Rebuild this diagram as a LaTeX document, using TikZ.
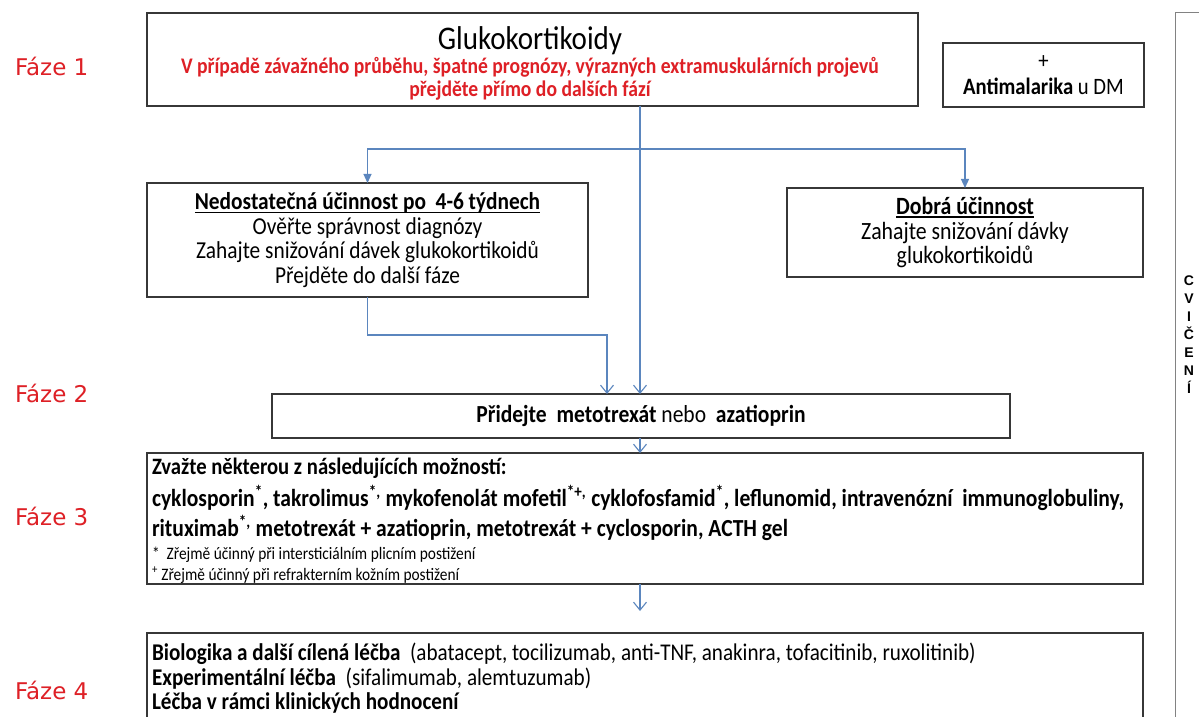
\documentclass[tikz,border=0pt]{standalone}
\usepackage{fontspec}
\setmainfont{Carlito}[FakeStretch=0.88]
\newfontfamily\fazefont{DejaVu Sans}
\newfontfamily\cvfont{Liberation Sans}
\usetikzlibrary{arrows.meta,calc}
\definecolor{fred}{RGB}{222,32,38}
\definecolor{conn}{RGB}{91,134,190}
\definecolor{bord}{RGB}{55,55,55}
\definecolor{panel}{RGB}{130,130,130}
\newcommand\fsz[2]{\fontsize{#1bp}{#2bp}\selectfont}
\newcommand\myul[1]{\setbox0\hbox{#1}\rlap{\rule[-3bp]{\wd0}{1.1bp}}\box0}
\begin{document}
\begin{tikzpicture}[x=1bp,y=-1bp,
  box/.style={draw=bord, line width=1.3bp, inner sep=0pt, outer sep=0pt},
  txt/.style={inner sep=0pt, outer sep=0pt},
  connline/.style={draw=conn, line width=1.1bp},
  tri/.style={connline, -{Triangle[width=8bp,length=9bp]}},
  vee/.style={connline, -{Straight Barb[width=13bp,length=8bp]}},
  faze/.style={txt, anchor=west, text=fred, font={\fazefont\fsz{23}{28}}},
  lline/.style={txt, anchor=base west, font={\fsz{24}{24}}}
]
\useasboundingbox (0,0) rectangle (1199,717);
\clip (0,0) rectangle (1199,717);
\fill[white] (0,0) rectangle (1199,717);

% phase labels
\node[faze] (f1) at (15,66) {Fáze 1};
\node[faze] (f2) at (15,393) {Fáze 2};
\node[faze] (f3) at (15,516) {Fáze 3};
\node[faze] (f4) at (15,690) {Fáze 4};

% phase 1
\node[box, minimum width=771bp, minimum height=93bp] (top) at (532.5,59.5) {};
\node[txt, anchor=base, font={\fsz{33}{36}}] (glk) at (530,50) {Glukokortikoidy};
\node[txt, anchor=base, text=fred, font={\bfseries\fsz{22.3}{24}}] (sev1) at (530,74) {V případě závažného průběhu, špatné prognózy, výrazných extramuskulárních projevů};
\node[txt, anchor=base, text=fred, font={\bfseries\fsz{22.3}{24}}] (sev2) at (530,97) {přejděte přímo do dalších fází};

\node[box, minimum width=201bp, minimum height=64bp, align=center, font={\fsz{23.5}{26}}] (am) at (1043.5,75) {+\\\textbf{Antimalarika} u DM};

\node[box, minimum width=441bp, minimum height=114bp, align=center, font={\fsz{24.3}{24.5}}] (nd) at (367.5,240)
  {\myul{\textbf{Nedostatečná účinnost po\ \ 4-6 týdnech}}\\Ověřte správnost diagnózy\\Zahajte snižování dávek glukokortikoidů\\Přejděte do další fáze};

\node[box, minimum width=356bp, minimum height=89bp, align=center, font={\fsz{24.8}{24.5}}] (db) at (965,232.5)
  {\myul{\textbf{Dobrá účinnost}}\\Zahajte snižování dávky\\glukokortikoidů};

% phase 2
\node[box, minimum width=738bp, minimum height=44bp, font={\fsz{24.5}{26}}] (p2) at (641,416)
  {\textbf{Přidejte\ \ metotrexát} nebo\ \ \textbf{azatioprin}};

% phase 3
\node[box, minimum width=996bp, minimum height=131bp] (p3) at (645,518.5) {};
\node[lline, font={\bfseries\fsz{23.5}{24}}] (p3a) at (152,474) {Zvažte některou z následujících možností:};
\node[lline, font={\bfseries\fsz{24.5}{24}}] (p3b) at (152,506) {cyklosporin\textsuperscript{*}, takrolimus\textsuperscript{*,} mykofenolát mofetil\textsuperscript{*+,} cyklofosfamid\textsuperscript{*}, leflunomid, intravenózní\ \ immunoglobuliny,};
\node[lline, font={\bfseries\fsz{24.5}{24}}] (p3c) at (152,536) {rituximab\textsuperscript{*,} metotrexát + azatioprin, metotrexát + cyclosporin, ACTH gel};
\node[lline, font={\fsz{17.5}{18}}] (p3d) at (152,559) {*\ \ Zřejmě účinný při intersticiálním plicním postižení};
\node[lline, font={\fsz{17.5}{18}}] (p3e) at (152,580) {\textsuperscript{+} Zřejmě účinný při refrakterním kožním postižení};

% phase 4
\node[box, minimum width=996bp, minimum height=110bp] (p4) at (645,688) {};
\node[lline] (p4a) at (152,660) {\textbf{Biologika a další cílená léčba}\ \ (abatacept, tocilizumab, anti-TNF, anakinra, tofacitinib, ruxolitinib)};
\node[lline] (p4b) at (152,685) {\textbf{Experimentální léčba}\ \ (sifalimumab, alemtuzumab)};
\node[lline] (p4c) at (152,709) {\textbf{Léčba v rámci klinických hodnocení}};

% right panel
\node[draw=panel, line width=1bp, inner sep=0pt, outer sep=0pt, minimum width=60bp, minimum height=740bp, anchor=north west] (cv) at (1175,13) {};
\node[txt, align=center, font={\cvfont\bfseries\fsz{14}{18}}] (cvt) at (1189,335) {C\\V\\I\\Č\\E\\N\\Í};

% connectors
\coordinate (cx) at (640,0);
\coordinate (br) at (640,149);
\coordinate (lh) at (607,335);
\coordinate (end4) at (640,611);
\draw[vee] (top.south -| cx) -- (p2.north -| cx);
\draw[tri] (br) -| (nd.north);
\draw[tri] (br) -| (db.north);
\draw[vee] (nd.south) |- (lh) -- (p2.north -| lh);
\draw[vee] (p2.south -| cx) -- (p3.north -| cx);
\draw[vee] (p3.south -| cx) -- (end4);
\end{tikzpicture}
\end{document}
